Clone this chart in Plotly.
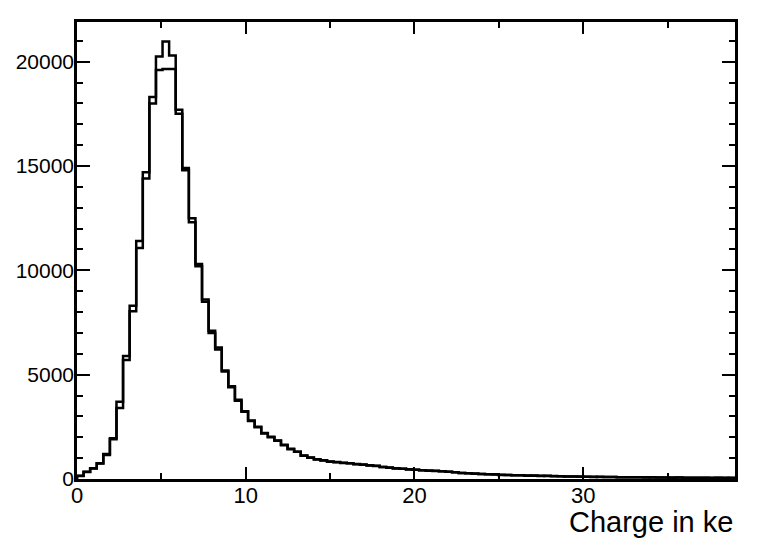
import numpy as np
import plotly.graph_objects as go

# Histogram binning (100 bins from 0 to 39 ke)
BIN_LO = 0.0
BIN_HI = 39.0
N_BINS = 100

# Histogram A (counts per bin)
counts_a = [
    150, 330, 510, 740, 1150, 1950, 3700, 5700, 8040, 11070,
    14400, 18300, 20250, 20960, 20300, 17700, 14800, 12300, 10300, 8500,
    7100, 6200, 5150, 4450, 3750, 3220, 2800, 2480, 2200, 2000,
    1850, 1620, 1450, 1300, 1130, 1020, 950, 890, 840, 800,
    780, 750, 720, 680, 660, 620, 580, 540, 510, 490,
    470, 440, 420, 400, 390, 370, 350, 320, 290, 270,
    260, 240, 230, 220, 200, 190, 180, 175, 165, 160,
    150, 145, 140, 130, 125, 120, 115, 110, 105, 100,
    95, 92, 88, 85, 82, 80, 78, 75, 72, 70,
    68, 66, 64, 62, 60, 58, 56, 55, 54, 52,
]

# Histogram B (second overlaid histogram)
counts_b = [
    140, 350, 500, 760, 1200, 1900, 3400, 5900, 8300, 11400,
    14700, 18000, 19600, 19650, 19650, 17500, 14900, 12500, 10200, 8600,
    7000, 6300, 5200, 4400, 3800, 3250, 2780, 2500, 2180, 2020,
    1830, 1640, 1430, 1310, 1120, 1030, 940, 900, 830, 810,
    770, 760, 710, 690, 650, 630, 570, 550, 500, 495,
    460, 445, 415, 405, 385, 375, 345, 325, 285, 275,
    255, 245, 225, 222, 195, 192, 178, 178, 160, 163,
    148, 150, 135, 132, 120, 125, 110, 112, 100, 104,
    90, 95, 85, 88, 78, 83, 74, 78, 70, 74,
    65, 69, 61, 65, 57, 61, 53, 58, 51, 55,
]

x_tick_vals = [0, 10, 20, 30]
x_tick_text = ["0", "10", "20", "30"]
y_tick_vals = [0, 5000, 10000, 15000, 20000]
y_tick_text = ["0", "5000", "10000", "15000", "20000"]
x_title = "Charge in ke"

edges = np.linspace(BIN_LO, BIN_HI, N_BINS + 1)


def step_xy(counts):
    xs = [edges[0]] + list(edges)
    ys = [0] + list(counts) + [counts[-1]]
    return xs, ys


fig = go.Figure()
for counts in (counts_b, counts_a):
    xs, ys = step_xy(counts)
    fig.add_trace(go.Scatter(
        x=xs, y=ys, mode="lines", line=dict(shape="hv", color="black", width=2.5),
        showlegend=False, hoverinfo="skip",
    ))

FONT = "Liberation Sans, Arial, sans-serif"

fig.update_layout(
    width=767, height=542,
    margin=dict(l=69, r=40, t=14, b=71, autoexpand=False),
    paper_bgcolor="white", plot_bgcolor="white",
    font=dict(family=FONT, color="black"),
    showlegend=False,
)
fig.update_xaxes(
    range=[BIN_LO, BIN_HI], showline=True, linecolor="black", linewidth=2.5,
    mirror="ticks", ticks="inside", ticklen=12, tickwidth=1.5, tickcolor="black",
    tickvals=x_tick_vals, ticktext=x_tick_text, tickfont=dict(size=22, family=FONT),
    ticklabelstandoff=-5,
    minor=dict(ticks="inside", dtick=5, ticklen=6, tickwidth=1.5, tickcolor="black"),
    showgrid=False, zeroline=False, automargin=False,
)
fig.update_yaxes(
    range=[0, 21900], showline=True, linecolor="black", linewidth=2.5,
    mirror="ticks", ticks="inside", ticklen=13, tickwidth=1.5, tickcolor="black",
    tickvals=y_tick_vals, ticktext=y_tick_text, tickfont=dict(size=21, family=FONT),
    ticklabelstandoff=-4,
    minor=dict(ticks="inside", dtick=1000, ticklen=6, tickwidth=1.5, tickcolor="black"),
    showgrid=False, zeroline=False, automargin=False,
)
fig.add_annotation(
    text=x_title, xref="paper", yref="paper", x=1.0, y=-0.055,
    xanchor="right", yanchor="top", showarrow=False,
    font=dict(size=29, family=FONT, color="black"),
)

fig.write_html("out.html")
